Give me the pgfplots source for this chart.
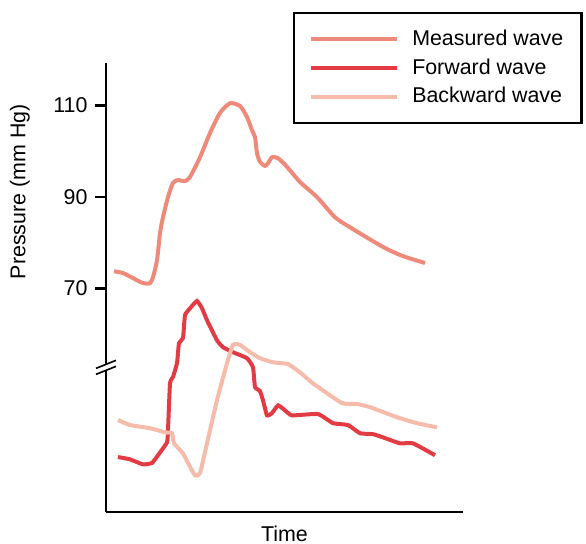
\documentclass[border=0pt]{standalone}
\usepackage{fontspec}
\setmainfont{Liberation Sans}
\usepackage{pgfplots}
\pgfplotsset{compat=1.18}
\definecolor{measured}{HTML}{EE8A7A}
\definecolor{forward}{HTML}{E33B44}
\definecolor{backward}{HTML}{F5BCAB}
\begin{document}
\fontsize{10.7}{12.8}\selectfont
\begin{tikzpicture}
\useasboundingbox (-53pt,-16pt) rectangle (240pt,256pt);
\begin{axis}[
  at={(0,0)}, anchor=south west,
  scale only axis, width=178.5pt, height=224.5pt,
  xmin=106, xmax=463, ymin=21.2, ymax=119.3,
  axis lines=left, axis line style={-, line width=1.4pt},
  xtick=\empty,
  ytick={70,90,110},
  tick align=outside, major tick length=5.5pt,
  tick style={line width=1.2pt, black},
  /pgf/number format/assume math mode=true,
  yticklabel style={font=\fontsize{10.7}{12.8}\selectfont},
  xlabel={Time}, ylabel={Pressure (mm Hg)},
  xlabel style={at={(axis description cs:0.5,0)}, anchor=north, yshift=-3pt},
  ylabel style={at={(axis description cs:-0.241,0.713)}, anchor=center},
  label style={font=\fontsize{10.7}{12.8}\selectfont},
  legend style={at={(axis description cs:0.524,1.114)}, anchor=north west,
    draw=black, line width=1.2pt, inner xsep=7.5pt, inner ysep=7pt,
    row sep=2pt, column sep=5pt, font=\fontsize{10.7}{12.8}\selectfont,
    nodes={inner sep=1.5pt}},
  legend cell align=left,
  legend image code/.code={\draw[#1] (0pt,0pt) -- (43pt,0pt);},
  clip=false,
]
\addplot[measured, line width=2pt, smooth, tension=0.4] coordinates {
(114,73.8) (123,73.4) (133,72.3) (143,71.2) (150,71.2) (153,72.5) (157,76.2)
(160,82.1) (163,85.6) (168,90.0) (173,93.1) (178,93.7) (185,93.5) (190,94.4)
(200,98.7) (210,104.0) (220,108.4) (230,110.5) (240,109.9) (247,107.5)
(252,104.6) (255,103.1) (257,99.6) (260,97.7) (265,96.8) (268,97.4)
(272,98.7) (278,98.5) (287,96.6) (300,93.3) (317,90.0) (335,85.6)
(350,83.4) (383,79.1) (403,77.1) (425,75.6)
};
\addlegendentry{Measured wave}
\addplot[forward, line width=2pt, smooth, tension=0.25] coordinates {
(118,33.2) (130,32.7) (143,31.6) (152,31.9) (158,33.6) (167,36.4) (168,39.1)
(170,49.3) (173,50.7) (177,53.7) (179,58.1) (183,59.2) (185,64.2) (190,65.7)
(197,67.3) (202,65.7) (207,63.1) (217,58.7) (223,57.2) (233,56.1) (247,54.8)
(253,52.8) (255,48.5) (260,47.6) (263,45.6) (267,42.3) (272,42.8) (278,44.5)
(285,43.4) (292,42.3) (318,42.6) (333,40.6) (348,40.2) (360,38.4) (373,38.2)
(383,37.5) (400,36.2) (413,36.2) (435,33.6)
};
\addlegendentry{Forward wave}
\addplot[backward, line width=2pt, smooth, tension=0.3] coordinates {
(118,41.3) (130,40.2) (150,39.5) (165,38.6) (172,38.4) (174,36.2) (183,34.0)
(188,31.9) (195,29.2) (200,29.7) (207,36.2) (217,45.6) (227,53.7) (233,57.7)
(240,57.7) (250,56.1) (260,54.8) (273,53.9) (288,53.5) (300,51.7) (313,49.3)
(342,45.0) (357,44.8) (370,44.1) (397,41.9) (417,40.6) (437,39.7)
};
\addlegendentry{Backward wave}
\draw[white, line width=2.5pt] ([xshift=-5pt,yshift=-2pt]axis cs:106,52.8) -- ([xshift=5pt,yshift=2pt]axis cs:106,52.8);
\draw[black, line width=0.8pt] ([xshift=-5pt,yshift=-3.5pt]axis cs:106,52.8) -- ([xshift=5pt,yshift=0.5pt]axis cs:106,52.8);
\draw[black, line width=0.8pt] ([xshift=-5pt,yshift=-0.5pt]axis cs:106,52.8) -- ([xshift=5pt,yshift=3.5pt]axis cs:106,52.8);
\end{axis}
\end{tikzpicture}
\end{document}
